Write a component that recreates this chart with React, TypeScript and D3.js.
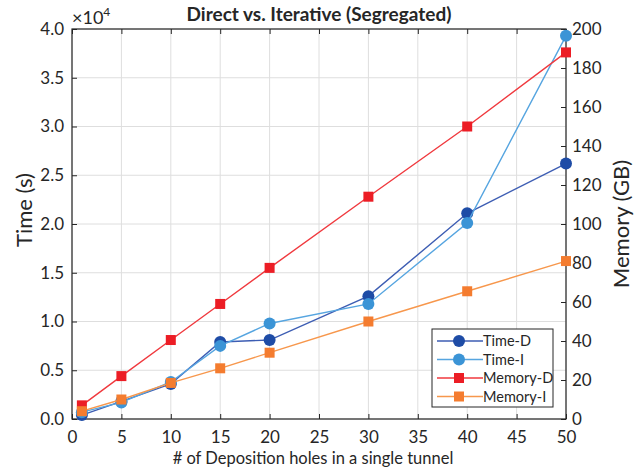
import React, { useEffect, useRef } from 'react';
import * as d3 from 'd3';

// number of deposition holes
const holes = [1, 5, 10, 15, 20, 30, 40, 50];
// time in units of 1e4 s
const timeDirect = [0.04, 0.18, 0.36, 0.79, 0.81, 1.26, 2.11, 2.62];
const timeIterative = [0.07, 0.17, 0.38, 0.75, 0.98, 1.18, 2.01, 3.93];
// memory in GB
const memDirect = [7, 22, 40.5, 59, 77.5, 114, 150, 188];
const memIterative = [4, 10, 18.5, 26, 34, 50, 65.5, 81];

const xTicks = [0, 5, 10, 15, 20, 25, 30, 35, 40, 45, 50];
const leftTicks = [0, 0.5, 1, 1.5, 2, 2.5, 3, 3.5, 4];
const rightTicks = [0, 20, 40, 60, 80, 100, 120, 140, 160, 180, 200];

const series = [
  { name: 'Time-D', values: timeDirect, axis: 'left', line: '#3d5db3', fill: '#1e4ca6', shape: 'circle' },
  { name: 'Time-I', values: timeIterative, axis: 'left', line: '#56a5e0', fill: '#3b94d6', shape: 'circle' },
  { name: 'Memory-D', values: memDirect, axis: 'right', line: '#f0393e', fill: '#ec1d25', shape: 'square' },
  { name: 'Memory-I', values: memIterative, axis: 'right', line: '#f7974c', fill: '#f47c2f', shape: 'square' },
];

const FONT = 'Lato, "Open Sans", sans-serif';
const INK = '#262626';

const App = () => {
  const svgRef = useRef<SVGSVGElement>(null);

  useEffect(() => {
    const width = 639;
    const height = 471;
    const margin = { top: 29, right: 73, bottom: 52, left: 72 };
    const w = width - margin.left - margin.right;
    const h = height - margin.top - margin.bottom;

    const root = d3.select(svgRef.current);
    root.selectAll('*').remove();
    root.attr('width', width).attr('height', height);

    const svg = root.append('g').attr('transform', `translate(${margin.left},${margin.top})`);

    const x = d3.scaleLinear().domain([0, 50]).range([0, w]);
    const yL = d3.scaleLinear().domain([0, 4]).range([h, 0]);
    const yR = d3.scaleLinear().domain([0, 200]).range([h, 0]);

    // grid
    svg.append('g')
      .selectAll('line')
      .data(xTicks)
      .enter()
      .append('line')
      .attr('x1', d => x(d)).attr('x2', d => x(d))
      .attr('y1', 0).attr('y2', h)
      .attr('stroke', '#dedede').attr('stroke-width', 1);
    svg.append('g')
      .selectAll('line')
      .data(leftTicks)
      .enter()
      .append('line')
      .attr('x1', 0).attr('x2', w)
      .attr('y1', d => yL(d)).attr('y2', d => yL(d))
      .attr('stroke', '#dedede').attr('stroke-width', 1);

    // axes, ticks inside like matlab
    const styleAxis = (g, size = 17) => {
      g.select('.domain').remove();
      g.selectAll('line').attr('stroke', INK);
      g.selectAll('text').attr('fill', INK).attr('font-size', size).attr('font-family', FONT);
    };

    svg.append('g')
      .attr('transform', `translate(0,${h})`)
      .call(d3.axisBottom(x).tickValues(xTicks).tickSize(-5).tickPadding(12).tickFormat(d3.format('d')))
      .call(styleAxis);
    svg.append('g')
      .call(d3.axisTop(x).tickValues(xTicks).tickSize(-5).tickFormat(() => ''))
      .call(styleAxis);
    svg.append('g')
      .call(d3.axisLeft(yL).tickValues(leftTicks).tickSize(-5).tickPadding(8).tickFormat(d3.format('.1f')))
      .call(styleAxis);
    svg.append('g')
      .attr('transform', `translate(${w},0)`)
      .call(d3.axisRight(yR).tickValues(rightTicks).tickSize(-5).tickPadding(6).tickFormat(d3.format('d')))
      .call(styleAxis);

    // box
    svg.append('rect')
      .attr('width', w).attr('height', h)
      .attr('fill', 'none').attr('stroke', INK).attr('stroke-width', 1.2);

    // series
    series.forEach(s => {
      const yS = s.axis === 'left' ? yL : yR;
      const line = d3.line<number>().x((_, i) => x(holes[i])).y(d => yS(d));
      svg.append('path')
        .datum(s.values)
        .attr('d', line)
        .attr('fill', 'none')
        .attr('stroke', s.line)
        .attr('stroke-width', 1.4);
      if (s.shape === 'circle') {
        svg.selectAll(null)
          .data(s.values)
          .enter()
          .append('circle')
          .attr('cx', (_, i) => x(holes[i]))
          .attr('cy', d => yS(d))
          .attr('r', 6)
          .attr('fill', s.fill);
      } else {
        svg.selectAll(null)
          .data(s.values)
          .enter()
          .append('rect')
          .attr('x', (_, i) => x(holes[i]) - 5)
          .attr('y', d => yS(d) - 5)
          .attr('width', 10).attr('height', 10)
          .attr('fill', s.fill);
      }
    });

    // legend
    const lg = svg.append('g').attr('transform', `translate(${432 - margin.left},${329 - margin.top})`);
    lg.append('rect')
      .attr('width', 121).attr('height', 78)
      .attr('fill', 'white').attr('stroke', INK).attr('stroke-width', 1);
    series.forEach((s, i) => {
      const cy = 12 + i * 18.5;
      lg.append('line')
        .attr('x1', 5).attr('x2', 51).attr('y1', cy).attr('y2', cy)
        .attr('stroke', s.line).attr('stroke-width', 1.4);
      if (s.shape === 'circle') {
        lg.append('circle').attr('cx', 27).attr('cy', cy).attr('r', 6).attr('fill', s.fill);
      } else {
        lg.append('rect').attr('x', 22).attr('y', cy - 5).attr('width', 10).attr('height', 10).attr('fill', s.fill);
      }
      lg.append('text')
        .attr('x', 51).attr('y', cy).attr('dy', '0.35em')
        .attr('font-size', 14.5).attr('font-family', FONT).attr('fill', INK)
        .text(s.name);
    });

    // title and labels
    root.append('text')
      .attr('x', margin.left + w / 2).attr('y', 21)
      .attr('text-anchor', 'middle')
      .attr('font-size', 19).attr('font-weight', 'bold').attr('font-family', FONT).attr('fill', INK)
      .text('Direct vs. Iterative (Segregated)');

    const exp = root.append('text')
      .attr('x', margin.left).attr('y', 24)
      .attr('font-size', 18).attr('font-family', FONT).attr('fill', INK);
    exp.append('tspan').text('×10');
    exp.append('tspan').attr('font-size', 12).attr('dy', -8).text('4');

    root.append('text')
      .attr('transform', `translate(32,${margin.top + h / 2 - 14}) rotate(-90)`)
      .attr('text-anchor', 'middle')
      .attr('font-size', 22).attr('font-family', FONT).attr('fill', INK)
      .text('Time (s)');

    root.append('text')
      .attr('transform', `translate(629,${margin.top + h / 2}) rotate(-90)`)
      .attr('text-anchor', 'middle')
      .attr('font-size', 22).attr('font-family', FONT).attr('fill', INK)
      .text('Memory (GB)');

    root.append('text')
      .attr('x', margin.left + w / 2 - 6).attr('y', 464)
      .attr('text-anchor', 'middle')
      .attr('font-size', 16.5).attr('font-family', FONT).attr('fill', INK)
      .text('# of Deposition holes in a single tunnel');
  }, []);

  return <svg ref={svgRef} style={{ position: 'absolute', left: 0, top: 0 }}></svg>;
};

export default App;
